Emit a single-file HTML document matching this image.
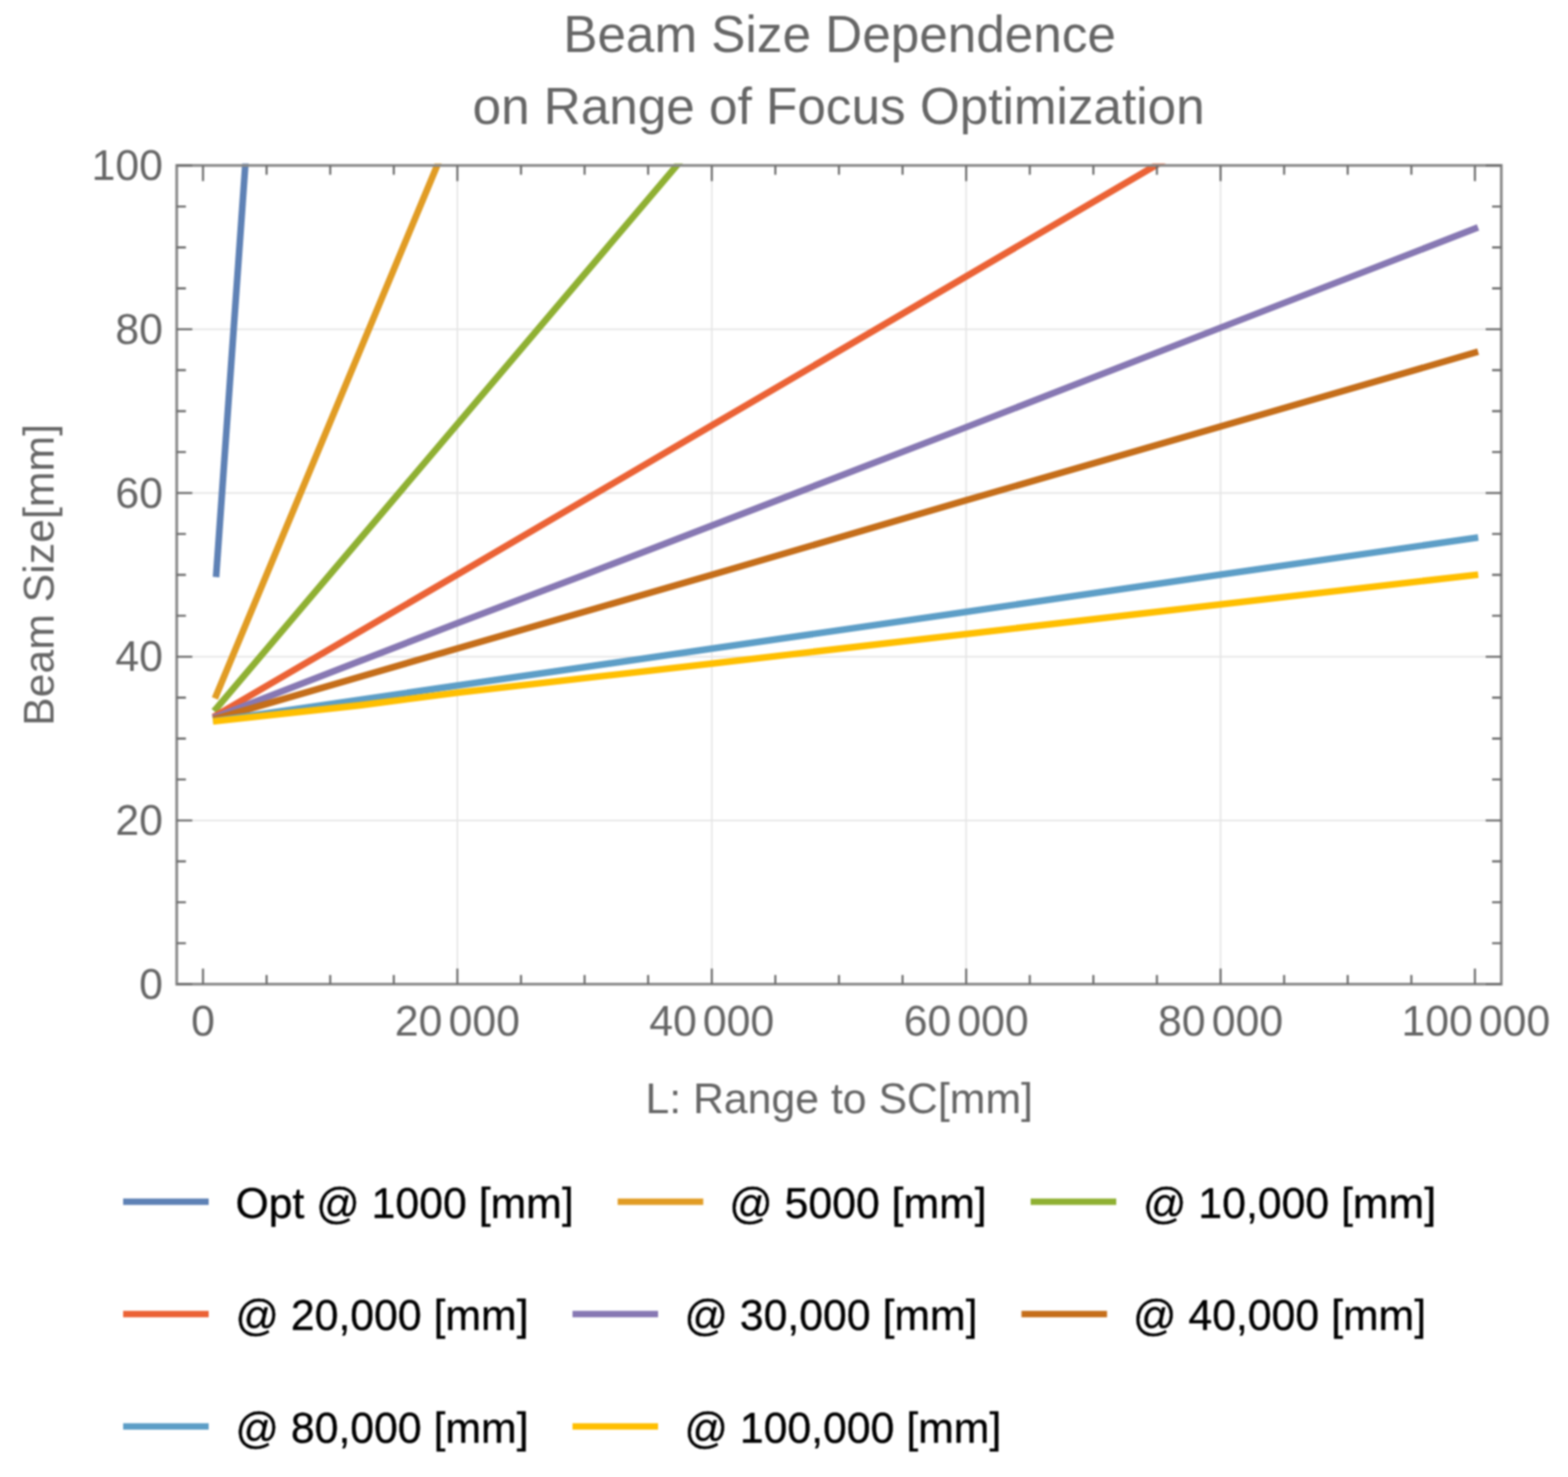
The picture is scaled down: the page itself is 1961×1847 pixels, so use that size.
<!DOCTYPE html>
<html lang="en"><head><meta charset="utf-8"><title>Beam Size Dependence on Range of Focus Optimization</title>
<style>html,body{margin:0;padding:0;background:#fff}body{width:1961px;height:1847px}svg{display:block;filter:blur(0.8px)}text{font-family:"Liberation Sans",Arial,Helvetica,sans-serif}</style>
</head><body>
<svg width="1961" height="1847" viewBox="0 0 1961 1847">
<rect width="1961" height="1847" fill="#fff"/>
<defs><clipPath id="pc"><rect x="221.0" y="204.4" width="1656.6" height="1026.3"/></clipPath></defs>
<g stroke="#e6e6e6" stroke-width="2" fill="none">
<line x1="572.0" y1="206.9" x2="572.0" y2="1230.7"/>
<line x1="890.2" y1="206.9" x2="890.2" y2="1230.7"/>
<line x1="1208.3" y1="206.9" x2="1208.3" y2="1230.7"/>
<line x1="1526.5" y1="206.9" x2="1526.5" y2="1230.7"/>
<line x1="221.0" y1="1026.0" x2="1877.6" y2="1026.0"/>
<line x1="221.0" y1="821.2" x2="1877.6" y2="821.2"/>
<line x1="221.0" y1="616.5" x2="1877.6" y2="616.5"/>
<line x1="221.0" y1="411.7" x2="1877.6" y2="411.7"/>
</g>
<g clip-path="url(#pc)" fill="none" stroke-width="8.3" stroke-linecap="square" stroke-linejoin="round">
<polyline stroke="#5E81B5" points="270.5,717.5 306.8,206.3 307.5,196.0"/>
<polyline stroke="#E19C24" points="270.4,869.6 334.1,716.8 547.0,206.3 551.2,196.3"/>
<polyline stroke="#8FB032" points="270.4,886.1 413.6,717.2 846.9,206.3 855.4,196.3"/>
<polyline stroke="#EB6235" points="270.5,894.6 571.8,718.6 890.0,532.2 1446.2,206.3 1463.3,196.3"/>
<polyline stroke="#8778B3" points="270.5,896.3 571.8,779.4 731.6,718.6 1200.0,537.5 1526.0,410.0 1844.6,285.9"/>
<polyline stroke="#C56E1A" points="270.5,898.5 571.8,811.0 890.6,718.8 1200.0,628.0 1526.0,533.5 1844.6,441.0"/>
<polyline stroke="#5D9EC7" points="270.5,901.0 572.8,857.2 890.0,811.2 1200.0,766.3 1526.0,718.7 1844.6,672.7"/>
<polyline stroke="#FFBF00" points="270.5,901.6 450.0,882.0 572.8,866.2 890.0,829.8 1200.0,793.8 1526.0,755.8 1844.6,719.0"/>
</g>
<g stroke="#6c6c6c" stroke-width="2.6" fill="none">
<rect x="221.0" y="206.9" width="1656.6" height="1023.8" stroke="#888" stroke-width="3.4"/>
<path d="M253.9 1230.7v-19.5M253.9 206.9v19.5M333.4 1230.7v-11.5M333.4 206.9v11.5M413.0 1230.7v-11.5M413.0 206.9v11.5M492.5 1230.7v-11.5M492.5 206.9v11.5M572.0 1230.7v-19.5M572.0 206.9v19.5M651.6 1230.7v-11.5M651.6 206.9v11.5M731.1 1230.7v-11.5M731.1 206.9v11.5M810.6 1230.7v-11.5M810.6 206.9v11.5M890.2 1230.7v-19.5M890.2 206.9v19.5M969.7 1230.7v-11.5M969.7 206.9v11.5M1049.2 1230.7v-11.5M1049.2 206.9v11.5M1128.8 1230.7v-11.5M1128.8 206.9v11.5M1208.3 1230.7v-19.5M1208.3 206.9v19.5M1287.9 1230.7v-11.5M1287.9 206.9v11.5M1367.4 1230.7v-11.5M1367.4 206.9v11.5M1446.9 1230.7v-11.5M1446.9 206.9v11.5M1526.5 1230.7v-19.5M1526.5 206.9v19.5M1606.0 1230.7v-11.5M1606.0 206.9v11.5M1685.5 1230.7v-11.5M1685.5 206.9v11.5M1765.1 1230.7v-11.5M1765.1 206.9v11.5M1844.6 1230.7v-19.5M1844.6 206.9v19.5M221.0 1230.7h19.5M1877.6 1230.7h-19.5M221.0 1179.5h11.5M1877.6 1179.5h-11.5M221.0 1128.3h11.5M1877.6 1128.3h-11.5M221.0 1077.1h11.5M1877.6 1077.1h-11.5M221.0 1026.0h19.5M1877.6 1026.0h-19.5M221.0 974.8h11.5M1877.6 974.8h-11.5M221.0 923.6h11.5M1877.6 923.6h-11.5M221.0 872.4h11.5M1877.6 872.4h-11.5M221.0 821.2h19.5M1877.6 821.2h-19.5M221.0 770.0h11.5M1877.6 770.0h-11.5M221.0 718.9h11.5M1877.6 718.9h-11.5M221.0 667.7h11.5M1877.6 667.7h-11.5M221.0 616.5h19.5M1877.6 616.5h-19.5M221.0 565.3h11.5M1877.6 565.3h-11.5M221.0 514.1h11.5M1877.6 514.1h-11.5M221.0 462.9h11.5M1877.6 462.9h-11.5M221.0 411.7h19.5M1877.6 411.7h-19.5M221.0 360.6h11.5M1877.6 360.6h-11.5M221.0 309.4h11.5M1877.6 309.4h-11.5M221.0 258.2h11.5M1877.6 258.2h-11.5M221.0 207.0h19.5M1877.6 207.0h-19.5"/>
</g>
<g fill="#666666" font-size="53.5">
<text x="203.7" y="1248.7" text-anchor="end">0</text>
<text x="203.7" y="1044.0" text-anchor="end">20</text>
<text x="203.7" y="839.2" text-anchor="end">40</text>
<text x="203.7" y="634.5" text-anchor="end">60</text>
<text x="203.7" y="429.7" text-anchor="end">80</text>
<text x="203.7" y="225.0" text-anchor="end">100</text>
<text x="253.9" y="1294.6" text-anchor="middle">0</text>
<text x="572.0" y="1294.6" text-anchor="middle">20<tspan dx="7.5">000</tspan></text>
<text x="890.2" y="1294.6" text-anchor="middle">40<tspan dx="7.5">000</tspan></text>
<text x="1208.3" y="1294.6" text-anchor="middle">60<tspan dx="7.5">000</tspan></text>
<text x="1526.5" y="1294.6" text-anchor="middle">80<tspan dx="7.5">000</tspan></text>
<text x="1845.8" y="1294.6" text-anchor="middle">100<tspan dx="7.5">000</tspan></text>
<text x="1049.5" y="1392" text-anchor="middle">L: Range to SC[mm]</text>
<text transform="translate(67.2,719) rotate(-90)" text-anchor="middle">Beam Size[mm]</text>
</g>
<g fill="#666666" font-size="64.1" text-anchor="middle">
<text x="1050" y="65.2">Beam Size Dependence</text>
<text x="1048.8" y="154.8">on Range of Focus Optimization</text>
</g>
<g font-size="53.5" fill="#000" stroke-linejoin="round">
<line x1="154.0" y1="1502.8" x2="261.0" y2="1502.8" stroke="#5E81B5" stroke-width="8"/>
<text x="294.5" y="1522.5" stroke="#000" stroke-width="0.4">Opt @ 1000 [mm]</text>
<line x1="772.5" y1="1502.8" x2="879.5" y2="1502.8" stroke="#E19C24" stroke-width="8"/>
<text x="912.0" y="1522.5" stroke="#000" stroke-width="0.4">@ 5000 [mm]</text>
<line x1="1289.0" y1="1502.8" x2="1396.0" y2="1502.8" stroke="#8FB032" stroke-width="8"/>
<text x="1429.5" y="1522.5" stroke="#000" stroke-width="0.4">@ 10,000 [mm]</text>
<line x1="154.0" y1="1643.2" x2="261.0" y2="1643.2" stroke="#EB6235" stroke-width="8"/>
<text x="294.5" y="1662.9" stroke="#000" stroke-width="0.4">@ 20,000 [mm]</text>
<line x1="716.0" y1="1643.2" x2="823.0" y2="1643.2" stroke="#8778B3" stroke-width="8"/>
<text x="856.0" y="1662.9" stroke="#000" stroke-width="0.4">@ 30,000 [mm]</text>
<line x1="1277.5" y1="1643.2" x2="1384.5" y2="1643.2" stroke="#C56E1A" stroke-width="8"/>
<text x="1417.0" y="1662.9" stroke="#000" stroke-width="0.4">@ 40,000 [mm]</text>
<line x1="154.0" y1="1783.8" x2="261.0" y2="1783.8" stroke="#5D9EC7" stroke-width="8"/>
<text x="294.5" y="1803.5" stroke="#000" stroke-width="0.4">@ 80,000 [mm]</text>
<line x1="716.0" y1="1783.8" x2="823.0" y2="1783.8" stroke="#FFBF00" stroke-width="8"/>
<text x="856.0" y="1803.5" stroke="#000" stroke-width="0.4">@ 100,000 [mm]</text>
</g>
</svg>
</body></html>
